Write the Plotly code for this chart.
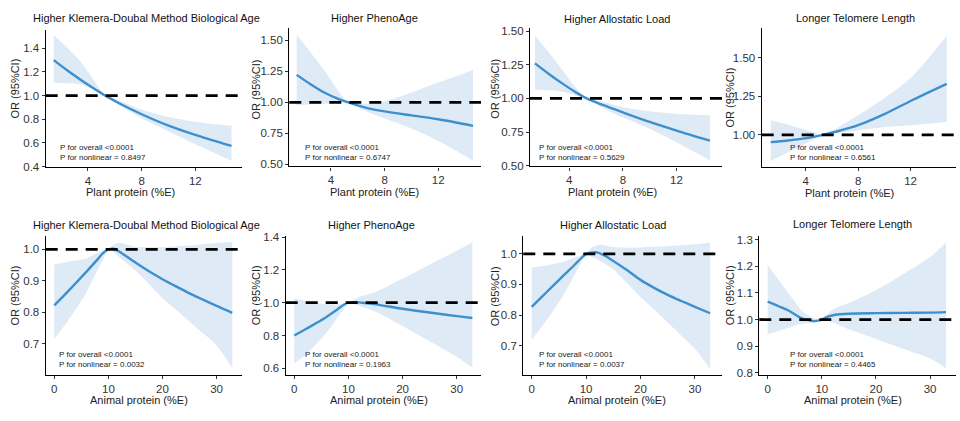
import plotly.graph_objects as go

W, H = 960, 421
FONT = "Liberation Sans, Arial, Helvetica, sans-serif"
LINE_COLOR = "#3d8fce"
BAND_COLOR = "#deebf7"
REF_OR = 1.0

titles = ["Higher Klemera-Doubal Method Biological Age", "Higher PhenoAge",
          "Higher Allostatic Load", "Longer Telomere Length"] * 2
xlabels = ["Plant protein (%E)"] * 4 + ["Animal protein (%E)"] * 4
p_overall = ["P for overall <0.0001"] * 8
p_nonlinear = ["P for nonlinear = 0.8497", "P for nonlinear = 0.6747",
               "P for nonlinear = 0.5629", "P for nonlinear = 0.6561",
               "P for nonlinear = 0.0032", "P for nonlinear = 0.1963",
               "P for nonlinear = 0.0037", "P for nonlinear = 0.4465"]

# ---- data ----
plant_kdm_x = [1.45, 2.5, 3.5, 4.5, 5.3, 6.5, 8, 10, 12, 14.7]
plant_kdm_fit = [1.30, 1.21, 1.13, 1.056, 1.0, 0.925, 0.843, 0.747, 0.669, 0.575]
plant_kdm_up = [1.51, 1.40, 1.28, 1.12, 1.0, 0.95, 0.88, 0.82, 0.78, 0.745]
plant_kdm_lo = [1.11, 1.105, 1.095, 1.05, 1.0, 0.91, 0.81, 0.70, 0.59, 0.45]

plant_pheno_x = [1.44, 2.5, 3.5, 4.5, 5.3, 6.5, 8, 10, 12, 14.6]
plant_pheno_fit = [1.222, 1.145, 1.08, 1.03, 1.0, 0.96, 0.927, 0.895, 0.864, 0.811]
plant_pheno_up = [1.545, 1.40, 1.26, 1.10, 1.0, 0.99, 1.01, 1.08, 1.16, 1.262]
plant_pheno_lo = [0.975, 0.985, 0.99, 0.995, 1.0, 0.935, 0.87, 0.79, 0.69, 0.53]

plant_al_x = [1.44, 2.5, 3.5, 4.5, 5.3, 6.5, 8, 10, 12, 14.5]
plant_al_fit = [1.26, 1.18, 1.11, 1.045, 1.0, 0.952, 0.897, 0.826, 0.762, 0.687]
plant_al_up = [1.465, 1.34, 1.21, 1.08, 1.0, 0.975, 0.935, 0.905, 0.887, 0.875]
plant_al_lo = [1.067, 1.06, 1.05, 1.02, 1.0, 0.93, 0.86, 0.775, 0.675, 0.54]

plant_tl_x = [1.33, 2.5, 3.5, 4.5, 5.3, 6.5, 8, 10, 12, 14.76]
plant_tl_fit = [0.953, 0.962, 0.972, 0.985, 1.0, 1.025, 1.063, 1.135, 1.22, 1.331]
plant_tl_up = [1.095, 1.07, 1.045, 1.02, 1.0, 1.05, 1.127, 1.24, 1.37, 1.643]
plant_tl_lo = [0.83, 0.88, 0.92, 0.966, 1.0, 1.01, 1.03, 1.05, 1.063, 1.084]

animal_kdm_x = [0, 2, 4, 6, 8, 9, 10, 11, 12, 15, 17.5, 20, 22.5, 25, 27.5, 30, 32.9]
animal_kdm_fit = [0.822, 0.857, 0.893, 0.93, 0.968, 0.988, 1.0, 1.002, 0.993, 0.958, 0.93,
                  0.905, 0.882, 0.86, 0.84, 0.82, 0.798]
animal_kdm_up = [0.952, 0.958, 0.965, 0.972, 0.988, 0.996, 1.0, 1.015, 1.021, 1.008, 1.007,
                 1.007, 1.01, 1.012, 1.016, 1.02, 1.024]
animal_kdm_lo = [0.715, 0.76, 0.81, 0.865, 0.935, 0.968, 1.0, 0.99, 0.975, 0.933, 0.89,
                 0.845, 0.808, 0.77, 0.733, 0.695, 0.622]

animal_pheno_x = [0, 2, 4, 6, 8, 9, 10, 11, 12, 13, 15, 20, 25, 30, 32.9]
animal_pheno_fit = [0.80, 0.837, 0.875, 0.915, 0.96, 0.985, 1.0, 1.003, 1.002, 0.998, 0.99,
                    0.963, 0.94, 0.918, 0.907]
animal_pheno_up = [1.025, 1.012, 1.0, 0.99, 0.99, 0.995, 1.0, 1.02, 1.035, 1.045, 1.065,
                   1.147, 1.232, 1.317, 1.367]
animal_pheno_lo = [0.63, 0.68, 0.745, 0.82, 0.91, 0.955, 1.0, 0.99, 0.98, 0.97, 0.947,
                   0.858, 0.765, 0.67, 0.603]

animal_al_x = [0, 2, 4, 6, 8, 9, 10, 11, 12, 13, 15, 17.5, 20, 22.5, 25, 27.5, 30, 32.8]
animal_al_fit = [0.827, 0.862, 0.897, 0.932, 0.966, 0.984, 1.0, 1.004, 1.005, 0.998, 0.977,
                 0.947, 0.915, 0.889, 0.866, 0.846, 0.827, 0.806]
animal_al_up = [0.955, 0.96, 0.967, 0.975, 0.99, 0.995, 1.0, 1.02, 1.028, 1.03, 1.022,
                1.02, 1.021, 1.023, 1.025, 1.028, 1.031, 1.037]
animal_al_lo = [0.72, 0.765, 0.815, 0.87, 0.935, 0.968, 1.0, 0.99, 0.982, 0.972, 0.95,
                0.905, 0.859, 0.818, 0.776, 0.733, 0.69, 0.625]

animal_tl_x = [0, 2, 4, 6, 7, 8, 8.5, 9, 10, 11, 12.5, 15, 20, 25, 30, 32.95]
animal_tl_fit = [1.067, 1.05, 1.032, 1.007, 1.0, 0.996, 0.994, 0.995, 1.0, 1.01, 1.018,
                 1.022, 1.024, 1.025, 1.026, 1.028]
animal_tl_up = [1.205, 1.15, 1.095, 1.04, 1.022, 1.01, 1.005, 1.003, 1.0, 1.02, 1.043,
                1.062, 1.11, 1.17, 1.235, 1.29]
animal_tl_lo = [0.945, 0.957, 0.97, 0.982, 0.986, 0.988, 0.99, 0.993, 1.0, 0.995, 0.985,
                0.963, 0.927, 0.89, 0.853, 0.817]

series = [
    (plant_kdm_x, plant_kdm_fit, plant_kdm_up, plant_kdm_lo),
    (plant_pheno_x, plant_pheno_fit, plant_pheno_up, plant_pheno_lo),
    (plant_al_x, plant_al_fit, plant_al_up, plant_al_lo),
    (plant_tl_x, plant_tl_fit, plant_tl_up, plant_tl_lo),
    (animal_kdm_x, animal_kdm_fit, animal_kdm_up, animal_kdm_lo),
    (animal_pheno_x, animal_pheno_fit, animal_pheno_up, animal_pheno_lo),
    (animal_al_x, animal_al_fit, animal_al_up, animal_al_lo),
    (animal_tl_x, animal_tl_fit, animal_tl_up, animal_tl_lo),
]

x_ticks = [[4, 8, 12]] * 4 + [[0, 10, 20, 30]] * 4
y_ticks = [[0.4, 0.6, 0.8, 1.0, 1.2, 1.4], [0.5, 0.75, 1.0, 1.25, 1.5],
           [0.5, 0.75, 1.0, 1.25, 1.5], [1.0, 1.25, 1.5],
           [0.7, 0.8, 0.9, 1.0], [0.6, 0.8, 1.0, 1.2, 1.4],
           [0.7, 0.8, 0.9, 1.0], [0.8, 0.9, 1.0, 1.1, 1.2, 1.3]]
y_fmt = [".1f", ".2f", ".2f", ".2f", ".1f", ".1f", ".1f", ".1f"]

# ---- layout geometry (pixels) ----
boxes = [(45.7, 242, 26, 166), (289.3, 481, 24, 165.7), (530, 722, 24, 165.7),
         (761.7, 956, 24, 166.7), (45.7, 242, 236.7, 380), (285.7, 481, 237.3, 380),
         (523.3, 722, 237.3, 380), (759.3, 956, 237.3, 380)]
x_ranges = [(0.85, 15.48), (0.89, 15.19), (1.07, 15.4), (0.64, 15.47),
            (-1.59, 34.7), (-1.59, 34.5), (-1.54, 34.98), (-1.55, 34.8)]
y_ranges = [(0.4, 1.552), (0.484, 1.597), (0.496, 1.52), (0.789, 1.692),
            (0.6, 1.044), (0.559, 1.406), (0.604, 1.058), (0.791, 1.314)]
title_pos = [(146, 13), (374, 13.3), (617, 14), (855, 13.3),
             (146, 225.7), (371, 225.7), (613, 225.7), (852, 225.3)]
xlab_pos = [(130, 192), (374.5, 192), (612, 192), (849, 192.7),
            (139, 406), (378.7, 406), (616.5, 406), (853, 406)]
ylab_pos = [(15, 85.8), (256, 86.7), (495, 86), (730, 95),
            (15, 298.3), (256, 298), (495, 299), (730, 298)]
p_pos = [(58.3, 146.7), (303.3, 146.7), (537.3, 146.7), (788.3, 146.7),
         (57.3, 359), (303.3, 359), (537.3, 359), (788.3, 359)]


def px(x):
    return x / W


def py(y):
    return 1 - y / H


fig = go.Figure()
layout = dict(width=W, height=H, margin=dict(l=0, r=0, t=0, b=0),
              paper_bgcolor="white", plot_bgcolor="white", showlegend=False,
              font=dict(family=FONT, color="#222222"))
annotations = []
shapes = []

for i, (xs, fit, up, lo) in enumerate(series):
    n = i + 1
    xa = "x" if n == 1 else f"x{n}"
    ya = "y" if n == 1 else f"y{n}"
    fig.add_trace(go.Scatter(x=xs, y=lo, mode="lines",
                             line=dict(width=0, shape="spline", smoothing=0.8),
                             xaxis=xa, yaxis=ya, hoverinfo="skip"))
    fig.add_trace(go.Scatter(x=xs, y=up, mode="lines",
                             line=dict(width=0, shape="spline", smoothing=0.8),
                             fill="tonexty", fillcolor=BAND_COLOR, xaxis=xa, yaxis=ya,
                             hoverinfo="skip"))
    fig.add_trace(go.Scatter(x=xs, y=fit, mode="lines",
                             line=dict(color=LINE_COLOR, width=2.4, shape="spline",
                                       smoothing=0.8),
                             xaxis=xa, yaxis=ya))
    x0, x1, y0, y1 = boxes[i]
    axis_common = dict(showgrid=False, zeroline=False, showline=True, linecolor="black",
                       linewidth=1.3, ticks="outside", ticklen=3, tickwidth=1,
                       tickcolor="#333333",
                       tickfont=dict(family=FONT, size=11.5, color="#333333"))
    layout["xaxis" if n == 1 else f"xaxis{n}"] = dict(
        domain=[px(x0), px(x1)], range=list(x_ranges[i]), anchor=ya,
        tickvals=x_ticks[i], **axis_common)
    layout["yaxis" if n == 1 else f"yaxis{n}"] = dict(
        domain=[py(y1), py(y0)], range=list(y_ranges[i]), anchor=xa,
        tickvals=y_ticks[i], tickformat=y_fmt[i], **axis_common)
    shapes.append(dict(type="line", xref=f"{xa} domain", yref=ya, x0=0, x1=1,
                       y0=REF_OR, y1=REF_OR, layer="above",
                       line=dict(color="black", width=2.8, dash="12px,8px")))
    tx, ty = title_pos[i]
    annotations.append(dict(text=titles[i], x=px(tx), y=py(ty), xref="paper", yref="paper",
                            showarrow=False, xanchor="center", yanchor="middle",
                            font=dict(family=FONT, size=11, color="#111111")))
    lx, ly = xlab_pos[i]
    annotations.append(dict(text=xlabels[i], x=px(lx), y=py(ly), xref="paper", yref="paper",
                            showarrow=False, xanchor="center", yanchor="middle",
                            font=dict(family=FONT, size=11, color="#222222")))
    vx, vy = ylab_pos[i]
    annotations.append(dict(text="OR (95%CI)", x=px(vx), y=py(vy), xref="paper", yref="paper",
                            showarrow=False, xanchor="center", yanchor="middle", textangle=-90,
                            font=dict(family=FONT, size=11, color="#222222")))
    ax, ay = p_pos[i]
    annotations.append(dict(text=p_overall[i], x=px(ax), y=py(ay), xref="paper", yref="paper",
                            showarrow=False, xanchor="left", yanchor="middle",
                            font=dict(family=FONT, size=8, color="#222222")))
    annotations.append(dict(text=p_nonlinear[i], x=px(ax), y=py(ay + 10), xref="paper",
                            yref="paper", showarrow=False, xanchor="left", yanchor="middle",
                            font=dict(family=FONT, size=8, color="#222222")))

layout["annotations"] = annotations
layout["shapes"] = shapes
fig.update_layout(**layout)
fig.write_html("out.html")
